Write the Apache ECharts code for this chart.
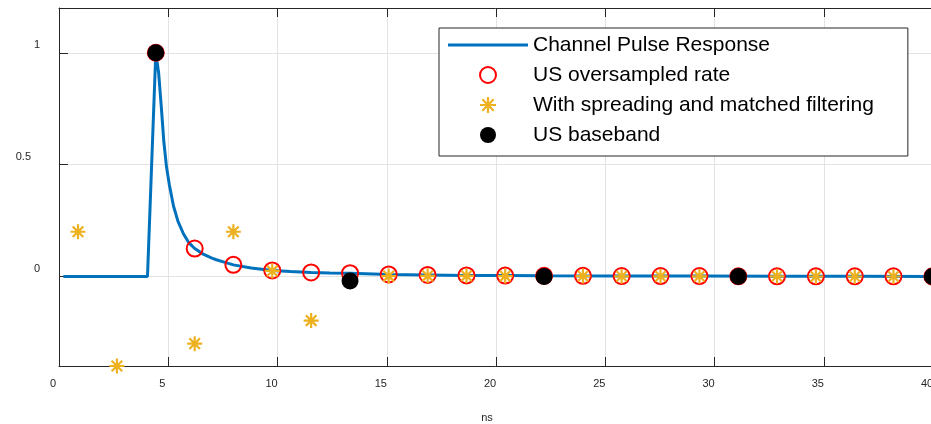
<!DOCTYPE html>
<html>
<head>
<meta charset="utf-8">
<script src="https://cdn.jsdelivr.net/npm/echarts@6/dist/echarts.min.js"></script>
<style>html,body{margin:0;padding:0;background:#fff}#c{width:931px;height:424px}</style>
</head>
<body>
<div id="c"></div>
<script>
// ---- data ----
const lineT = [0.2, 4.05, 4.43, 4.56, 4.68, 4.8, 4.92, 5.05, 5.24, 5.45, 5.7, 5.95, 6.21, 6.6, 7.0, 7.2, 7.6, 7.98, 8.8, 9.76, 10.6, 11.54, 12.4, 13.32, 15.09, 16.87, 18.65, 20.42, 22.2, 25.75, 29.31, 32.86, 36.42, 39.97];
const lineV = [0, 0, 1.0, 0.91, 0.76, 0.6, 0.49, 0.41, 0.315, 0.245, 0.19, 0.15, 0.125, 0.1, 0.082, 0.075, 0.063, 0.052, 0.038, 0.027, 0.022, 0.018, 0.016, 0.015, 0.009, 0.007, 0.005, 0.004, 0.003, 0.002, 0.002, 0.001, 0.001, 0.0];

const sampleT = [4.43, 6.21, 7.98, 9.76, 11.54, 13.32, 15.09, 16.87, 18.65, 20.42, 22.2, 23.98, 25.75, 27.53, 29.31, 31.09, 32.86, 34.64, 36.42, 38.19, 39.97];
const oversampledV = [1.0, 0.125, 0.052, 0.027, 0.018, 0.015, 0.009, 0.007, 0.005, 0.004, 0.003, 0.003, 0.002, 0.002, 0.002, 0.001, 0.001, 0.001, 0.001, 0.001, 0.0];

const spreadT = [0.87, 2.65, 4.43, 6.21, 7.98, 9.76, 11.54, 13.32, 15.09, 16.87, 18.65, 20.42, 22.2, 23.98, 25.75, 27.53, 29.31, 31.09, 32.86, 34.64, 36.42, 38.19, 39.97];
const spreadV = [0.2, -0.4, 1.0, -0.3, 0.2, 0.025, -0.197, -0.02, 0.002, 0.003, 0.003, 0.002, 0.001, 0.002, 0.001, 0.001, 0.001, 0.0, 0.001, 0.0, 0.0, 0.0, 0.0];

const basebandT = [4.43, 13.32, 22.2, 31.09, 39.97];
const basebandV = [1.0, -0.02, 0.0, 0.0, 0.0];

const seriesNames = ['Channel Pulse Response', 'US oversampled rate', 'With spreading and matched filtering', 'US baseband'];
const yTicks = [0, 0.5, 1];
const xLabel = 'ns';

// ---- chart ----
const pairs = (t, v) => t.map((x, i) => [x, v[i]]);
const FONT = "'Liberation Sans', Arial, sans-serif";
const AX = '#262626';
const STAR = 'path://M8,0L8,16M0,8L16,8M2.34,2.34L13.66,13.66M2.34,13.66L13.66,2.34';
const LINEICON = 'path://M0,0L80,0L80,3L0,3Z';

const chart = echarts.init(document.getElementById('c'), null, {renderer: 'canvas'});
chart.setOption({
  animation: false,
  backgroundColor: '#fff',
  textStyle: {fontFamily: FONT},
  grid: {left: 59, right: -2, top: 8, bottom: 58, containLabel: false, outerBoundsMode: 'none'},
  xAxis: [{
    type: 'value', min: 0, max: 40, interval: 5,
    name: xLabel, nameLocation: 'middle', nameGap: 46,
    nameTextStyle: {fontSize: 11, color: AX, fontFamily: FONT, padding: [0, 18, 0, 0]},
    axisLine: {show: true, onZero: false, lineStyle: {color: AX, width: 1}},
    axisTick: {show: true, inside: true, length: 9, lineStyle: {color: AX}},
    axisLabel: {fontSize: 11, color: AX, margin: 12, padding: [0, 12, 0, 0], fontFamily: FONT},
    splitLine: {show: true, lineStyle: {color: '#e3e3e3', width: 1}}
  }, {
    type: 'value', min: 0, max: 40, interval: 5, position: 'top',
    axisLine: {show: true, onZero: false, lineStyle: {color: AX, width: 1}},
    axisTick: {show: true, inside: true, length: 9, lineStyle: {color: AX}},
    axisLabel: {show: false}, splitLine: {show: false}
  }],
  yAxis: [{
    type: 'value', min: -0.4, max: 1.2,
    axisLine: {show: true, onZero: false, lineStyle: {color: AX, width: 1}},
    axisTick: {show: true, inside: true, length: 9, customValues: yTicks, lineStyle: {color: AX}},
    axisLabel: {
      customValues: yTicks, fontSize: 11, color: AX, margin: 19, fontFamily: FONT,
      verticalAlign: 'bottom', padding: [0, 0, 2, 0],
      formatter: v => (v === 0.5 ? '{b|0.5}' : '{a|' + v + '}'),
      rich: {
        a: {fontSize: 11, color: AX, fontFamily: FONT},
        b: {fontSize: 11, color: AX, fontFamily: FONT, padding: [0, 9, 0, 0]}
      }
    },
    splitLine: {show: true, lineStyle: {color: '#e3e3e3', width: 1}}
  }],
  legend: {
    orient: 'vertical', left: 439, top: 28,
    padding: [6, 34, 10, 9],
    itemWidth: 80, itemHeight: 16, itemGap: 8,
    backgroundColor: '#fff', borderColor: AX, borderWidth: 1,
    textStyle: {fontSize: 21, color: '#000', fontFamily: FONT, lineHeight: 22},
    data: [
      {name: seriesNames[0], icon: LINEICON, itemStyle: {color: '#0072BD', borderWidth: 0}},
      {name: seriesNames[1], icon: 'circle', itemStyle: {color: 'rgba(0,0,0,0)', borderColor: '#FF0000', borderWidth: 2}},
      {name: seriesNames[2], icon: STAR, itemStyle: {color: 'rgba(0,0,0,0)', borderColor: '#EDB120', borderWidth: 2.2}},
      {name: seriesNames[3], icon: 'circle', itemStyle: {color: '#000', borderWidth: 0}}
    ]
  },
  series: [{
    name: seriesNames[0], type: 'line', data: pairs(lineT, lineV),
    showSymbol: false, symbol: 'none',
    lineStyle: {color: '#0072BD', width: 3}, itemStyle: {color: '#0072BD'}, z: 2
  }, {
    name: seriesNames[1], type: 'scatter', data: pairs(sampleT, oversampledV),
    symbol: 'circle', symbolSize: 16, clip: false,
    itemStyle: {color: 'rgba(0,0,0,0)', borderColor: '#FF0000', borderWidth: 2, opacity: 1}, z: 3
  }, {
    name: seriesNames[2], type: 'scatter', data: pairs(spreadT, spreadV),
    symbol: STAR, symbolSize: 15, clip: false,
    itemStyle: {color: 'rgba(0,0,0,0)', borderColor: '#EDB120', borderWidth: 2.2, opacity: 1}, z: 4
  }, {
    name: seriesNames[3], type: 'scatter', data: pairs(basebandT, basebandV),
    symbol: 'circle', symbolSize: 17, clip: false,
    itemStyle: {color: '#000', opacity: 1}, z: 5
  }]
});
</script>
</body>
</html>
